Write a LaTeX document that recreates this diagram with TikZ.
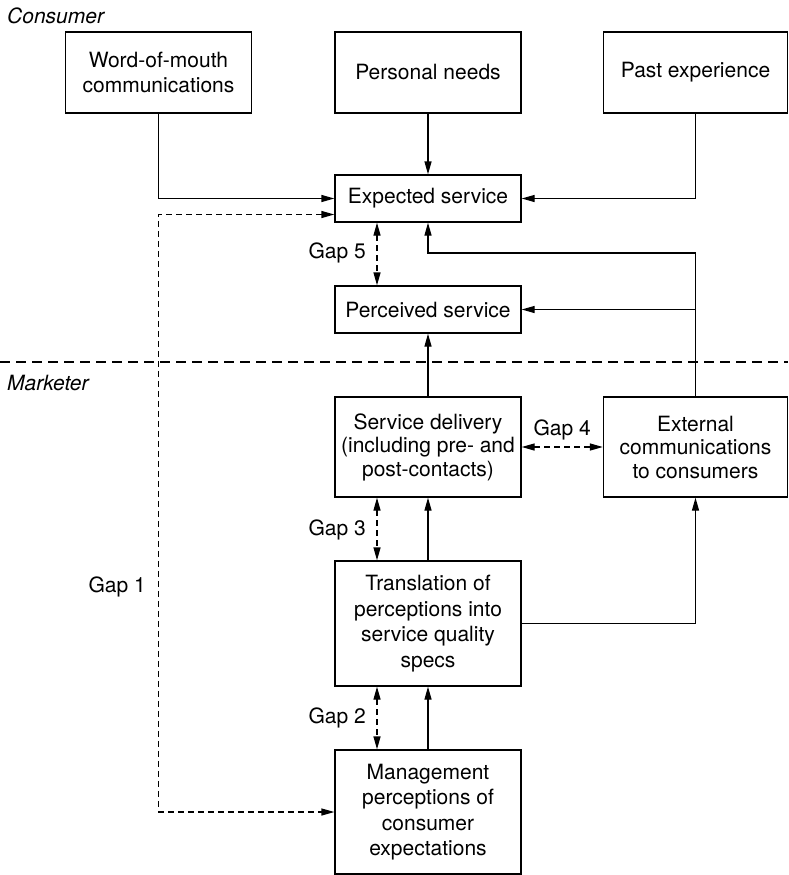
\documentclass[tikz,border=0pt]{standalone}
\usepackage{fontspec}
\setmainfont{TeX Gyre Heros}
\usetikzlibrary{arrows.meta}
\tikzset{
  box/.style={draw, line width=1.3pt, align=center, minimum width=186pt, inner sep=2pt,
    font=\fontsize{21}{25.5}\selectfont},
  tightbox/.style={box, font=\fontsize{21}{23.5}\selectfont},
  arr/.style={line width=1.3pt, -{Triangle[length=13pt,width=7pt]}},
  gaparr/.style={line width=1.3pt, dash pattern=on 6pt off 4pt,
    {Triangle[length=13pt,width=7pt]}-{Triangle[length=13pt,width=7pt]}},
  gaplbl/.style={anchor=east, inner sep=0pt, font=\fontsize{21}{25}\selectfont},
  side/.style={anchor=west, inner sep=0pt, font=\fontsize{21}{25}\selectfont\itshape}
}
\begin{document}
\begin{tikzpicture}[x=1pt,y=-1pt]
        \useasboundingbox (0,0) rectangle (788,875);
        %Consumer side
        \node[side] (consumer) at (7,16) {Consumer};
        \node[box, minimum height=81pt] (wom) at (158.5,72.5) {Word-of-mouth\\communications};
        \node[box, minimum height=81pt] (needs) at (428,72.5) {Personal needs};
        \node[box, minimum height=81pt, minimum width=184pt] (past) at (695.5,72.5) {Past experience};
        \node[box, minimum height=47pt] (expected) at (428,198.5) {Expected service};
        \node[box, minimum height=47pt] (perceived) at (428,309.5) {Perceived service};
        % Dividing line
        \draw[line width=1.2pt, dash pattern=on 10pt off 6pt] (0,362) -- (788,362);
        %Marketer side
        \node[side] (marketer) at (7,383) {Marketer};
        \node[tightbox, minimum height=100pt] (delivery) at (428,447) {Service delivery\\(including pre- and\\post-contacts)};
        \node[tightbox, minimum height=100pt, minimum width=184pt] (external) at (695.5,447) {External\\communications\\to consumers};
        \node[box, minimum height=125pt] (transl) at (428,623.5) {Translation of\\perceptions into\\service quality\\specs};
        \node[box, minimum height=124pt] (mgmt) at (428,812) {Management\\perceptions of\\consumer\\expectations};
        % Gap labels
        \node[gaplbl] (gapone) at (146,587) {Gap 1};
        \node[gaplbl] (gapfive) at (366,253) {Gap 5};
        \node[gaplbl] (gapthree) at (366,530) {Gap 3};
        \node[gaplbl] (gaptwo) at (366,718) {Gap 2};
        % Inputs to expected service
        \draw[arr] (wom.south) |- (expected.west);
        \draw[arr] (needs) -- (expected);
        \draw[arr] (past.south) |- (expected.east);
        % Flow upwards
        \draw[arr] (mgmt) -- (transl);
        \draw[arr] (transl) -- (delivery);
        \draw[arr] (delivery) -- (perceived);
        \draw[arr] (transl.east) -| (external.south);
        \draw[arr] (external.north) -- (external.north |- gapfive) -| (expected.south);
        \draw[arr] (external.north |- perceived.east) -- (perceived.east);
        % Gaps
        \draw[gaparr] ([yshift=-16pt]expected.west) -| (wom.south |- mgmt.west) -- (mgmt.west);
        \draw[gaparr] ([xshift=-51pt]expected.south) -- ([xshift=-51pt]perceived.north);
        \draw[gaparr] ([xshift=-51pt]delivery.south) -- ([xshift=-51pt]transl.north);
        \draw[gaparr] ([xshift=-51pt]transl.south) -- ([xshift=-51pt]mgmt.north);
        \draw[gaparr] (delivery.east) -- node[above=6pt, inner sep=0pt, font=\fontsize{21}{25}\selectfont] (gapfour) {Gap 4} (external.west);
      \end{tikzpicture}
\end{document}
